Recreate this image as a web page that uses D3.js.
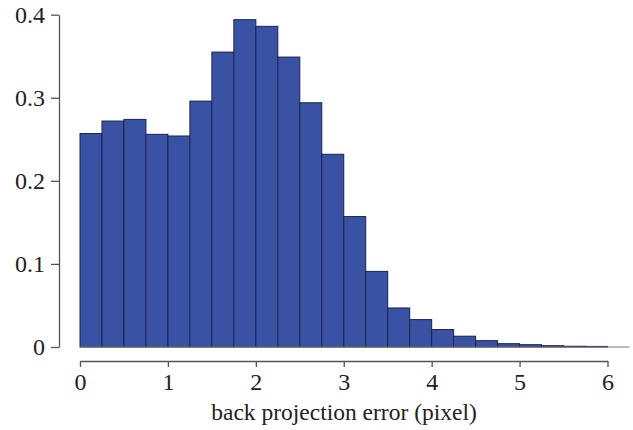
<!DOCTYPE html>
<html>
<head>
<meta charset="utf-8">
<script src="https://cdn.jsdelivr.net/npm/d3@7"></script>
<style>
  html, body { margin: 0; padding: 0; background: #fff; }
  svg { display: block; }
  .tick text { font-family: "Liberation Serif", "Times New Roman", serif; }
</style>
</head>
<body>
<svg id="chart" width="633" height="430"></svg>
<script>
// Histogram of back projection error, bins of 0.25 pixel
const binStarts = [0, 0.25, 0.5, 0.75, 1, 1.25, 1.5, 1.75, 2, 2.25, 2.5, 2.75,
                   3, 3.25, 3.5, 3.75, 4, 4.25, 4.5, 4.75, 5, 5.25, 5.5, 5.75];
const binWidth = 0.25;
const density = [0.257, 0.272, 0.274, 0.256, 0.254, 0.296, 0.355, 0.394, 0.386, 0.349,
                 0.294, 0.232, 0.157, 0.091, 0.047, 0.033, 0.021, 0.013, 0.0076, 0.004,
                 0.0028, 0.0016, 0.0009, 0.0007];
const xTicks = [0, 1, 2, 3, 4, 5, 6];
const yTicks = [0, 0.1, 0.2, 0.3, 0.4];
const xLabel = "back projection error (pixel)";

const svg = d3.select("#chart");

const x = d3.scaleLinear().domain([0, 6]).range([80, 607.5]);
const y = d3.scaleLinear().domain([0, 0.4]).range([347, 14.7]);

// bars
svg.append("g")
  .selectAll("rect")
  .data(binStarts)
  .join("rect")
  .attr("x", d => x(d))
  .attr("y", (d, i) => y(density[i]))
  .attr("width", d => x(d + binWidth) - x(d))
  .attr("height", (d, i) => y(0) - y(density[i]))
  .attr("fill", "#3a52a3")
  .attr("stroke", "#1b2352")
  .attr("stroke-width", 1);

// baseline under the bars
svg.append("line")
  .attr("x1", x(0)).attr("x2", x(6.25))
  .attr("y1", y(0)).attr("y2", y(0))
  .attr("stroke", "#777").attr("stroke-width", 1);

// y axis
const yAxis = svg.append("g")
  .attr("transform", "translate(59,0)")
  .call(d3.axisLeft(y).tickValues(yTicks).tickSize(8).tickSizeOuter(0).tickPadding(6)
    .tickFormat(d => d === 0 ? "0" : d3.format(".1f")(d)));

// x axis, offset below the plot
const xAxis = svg.append("g")
  .attr("transform", "translate(0,361)")
  .call(d3.axisBottom(x).tickValues(xTicks).tickSize(6).tickSizeOuter(0).tickPadding(6)
    .tickFormat(d3.format("d")));

[yAxis, xAxis].forEach(g => {
  g.select(".domain").attr("stroke", "#555").attr("stroke-width", 1.3);
  g.selectAll(".tick line").attr("stroke", "#555").attr("stroke-width", 1.3);
  g.selectAll(".tick text").attr("fill", "#222").style("font-size", "24px");
});

svg.append("text")
  .attr("x", 344)
  .attr("y", 420)
  .attr("text-anchor", "middle")
  .attr("fill", "#222")
  .style("font-family", "'Liberation Serif', 'Times New Roman', serif")
  .style("font-size", "23.5px")
  .text(xLabel);
</script>
</body>
</html>
